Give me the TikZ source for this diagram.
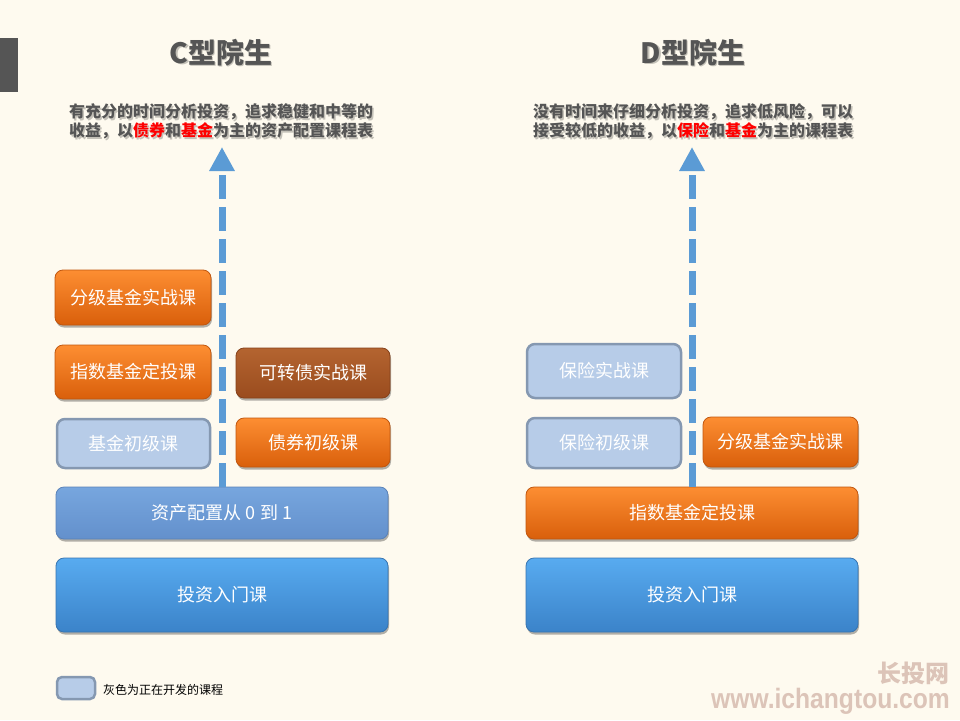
\documentclass[tikz,border=0pt]{standalone}
\usepackage{fontspec}
\newfontfamily\cjk{Noto Sans CJK SC}
\newfontfamily\lsans{Liberation Sans}
\usetikzlibrary{arrows.meta,shadows}
\definecolor{bg}{HTML}{FEFAEF}
\definecolor{titlegray}{HTML}{555555}
\definecolor{shcol}{HTML}{C4C1B8}
\definecolor{oTop}{HTML}{FD8E32}
\definecolor{oBot}{HTML}{D95F0B}
\definecolor{oEdge}{HTML}{C0560E}
\definecolor{bTop}{HTML}{B46430}
\definecolor{bBot}{HTML}{9A4C1E}
\definecolor{bEdge}{HTML}{85411A}
\definecolor{lbFill}{HTML}{B7CCE8}
\definecolor{lbEdge}{HTML}{8598B1}
\definecolor{mbTop}{HTML}{77A6DE}
\definecolor{mbBot}{HTML}{6390CC}
\definecolor{mbEdge}{HTML}{5A82B8}
\definecolor{dbTop}{HTML}{58ABF0}
\definecolor{dbBot}{HTML}{3B83C9}
\definecolor{dbEdge}{HTML}{3874B0}
\definecolor{arrowblue}{HTML}{5B9BD5}
\definecolor{wm}{HTML}{DCC4B8}
\definecolor{hired}{HTML}{FF0000}
\newcommand\hl[1]{{\color{hired}#1}}
\newcommand\withshadow[2]{\leavevmode\rlap{\kern#2\raisebox{-#2}{\color{shcol}\let\hl\relax#1}}#1}
\tikzset{
  box/.style={rounded corners=8pt, text=white, inner sep=0pt,
    font=\cjk\fontsize{18}{20}\selectfont},
  shadowed/.style={drop shadow={shadow xshift=1pt,shadow yshift=-2.5pt,opacity=0.3,fill=black}},
  obox/.style={box, shadowed, top color=oTop, bottom color=oBot, draw=oEdge, line width=0.8pt},
  brbox/.style={box, shadowed, top color=bTop, bottom color=bBot, draw=bEdge, line width=0.8pt},
  lbbox/.style={box, fill=lbFill, draw=lbEdge, line width=2.5pt},
  mbbox/.style={box, shadowed, top color=mbTop, bottom color=mbBot, draw=mbEdge, line width=0.8pt},
  dbbox/.style={box, shadowed, top color=dbTop, bottom color=dbBot, draw=dbEdge, line width=0.8pt},
  titletext/.style={font=\cjk\bfseries\fontsize{28}{32}\selectfont, text=titlegray},
  subtext/.style={font=\cjk\bfseries\fontsize{16}{19}\selectfont, text=titlegray, align=left, inner sep=0pt},
  dasharrow/.style={draw=arrowblue, line width=7pt, dash pattern=on 24pt off 8pt,
    -{Triangle[width=24pt,length=24pt]}},
  wmtext/.style={text=wm, inner sep=0pt}
}
\begin{document}
\begin{tikzpicture}[x=1pt,y=-1pt]
\fill[bg] (0,0) rectangle (960,720);
\useasboundingbox (0,0) rectangle (960,720);
% left gray tab
\fill[titlegray] (0,38) rectangle (18,92);

% titles
\node[titletext] (ct) at (221,53) {\withshadow{C型院生}{1.5pt}};
\node[titletext] (dt) at (693,53) {\withshadow{D型院生}{1.5pt}};

% subtitles
\node[subtext] (cs) at (221,122.5) {\withshadow{有充分的时间分析投资，追求稳健和中等的}{1.5pt}\\\withshadow{收益，以\hl{债券}和\hl{基金}为主的资产配置课程表}{1.5pt}};
\node[subtext] (ds) at (693,122.5) {\withshadow{没有时间来仔细分析投资，追求低风险，可以}{1.5pt}\\\withshadow{接受较低的收益，以\hl{保险}和\hl{基金}为主的课程表}{1.5pt}};

% C column boxes
\node[obox, minimum width=156pt, minimum height=55pt] (c1) at (133,297.5) {分级基金实战课};
\node[obox, minimum width=156pt, minimum height=54pt] (c2) at (133,372) {指数基金定投课};
\node[brbox, minimum width=154pt, minimum height=50pt] (c3) at (313,373) {可转债实战课};
\node[lbbox, minimum width=153pt, minimum height=49pt] (c4) at (133.5,443.5) {基金初级课};
\node[obox, minimum width=154pt, minimum height=49pt] (c5) at (313,442.5) {债券初级课};
\node[mbbox, minimum width=332pt, minimum height=52pt] (c6) at (222,513) {资产配置从 0 到 1};
\node[dbbox, minimum width=332pt, minimum height=74pt] (c7) at (222,595) {投资入门课};

% D column boxes
\node[lbbox, minimum width=154pt, minimum height=54pt] (d1) at (604,371) {保险实战课};
\node[lbbox, minimum width=154pt, minimum height=50pt] (d2) at (604,443) {保险初级课};
\node[obox, minimum width=155pt, minimum height=50pt] (d3) at (780.5,442) {分级基金实战课};
\node[obox, minimum width=332pt, minimum height=52pt] (d4) at (692,513) {指数基金定投课};
\node[dbbox, minimum width=332pt, minimum height=74pt] (d5) at (692,595) {投资入门课};

% arrows
\coordinate (ctip) at (222,147);
\coordinate (dtip) at (692,147);
\draw[dasharrow] (c6.north) -- (ctip);
\draw[dasharrow] (d4.north) -- (dtip);

% legend
\node[lbbox, rounded corners=5pt, minimum width=38pt, minimum height=22pt, line width=2.5pt] (leg) at (76,688) {};
\node[anchor=west, inner sep=0pt, font=\cjk\fontsize{12}{14}\selectfont, text=black] (legt) at (103,690) {灰色为正在开发的课程};

% watermark
\node[wmtext, anchor=east, font=\cjk\bfseries\fontsize{24}{26}\selectfont] (wm1) at (950,673) {长投网};
\node[wmtext, anchor=base east, font=\lsans\bfseries\fontsize{28}{30}\selectfont, xscale=0.88] (wm2) at (950,708) {www.ichangtou.com};
\end{tikzpicture}
\end{document}
